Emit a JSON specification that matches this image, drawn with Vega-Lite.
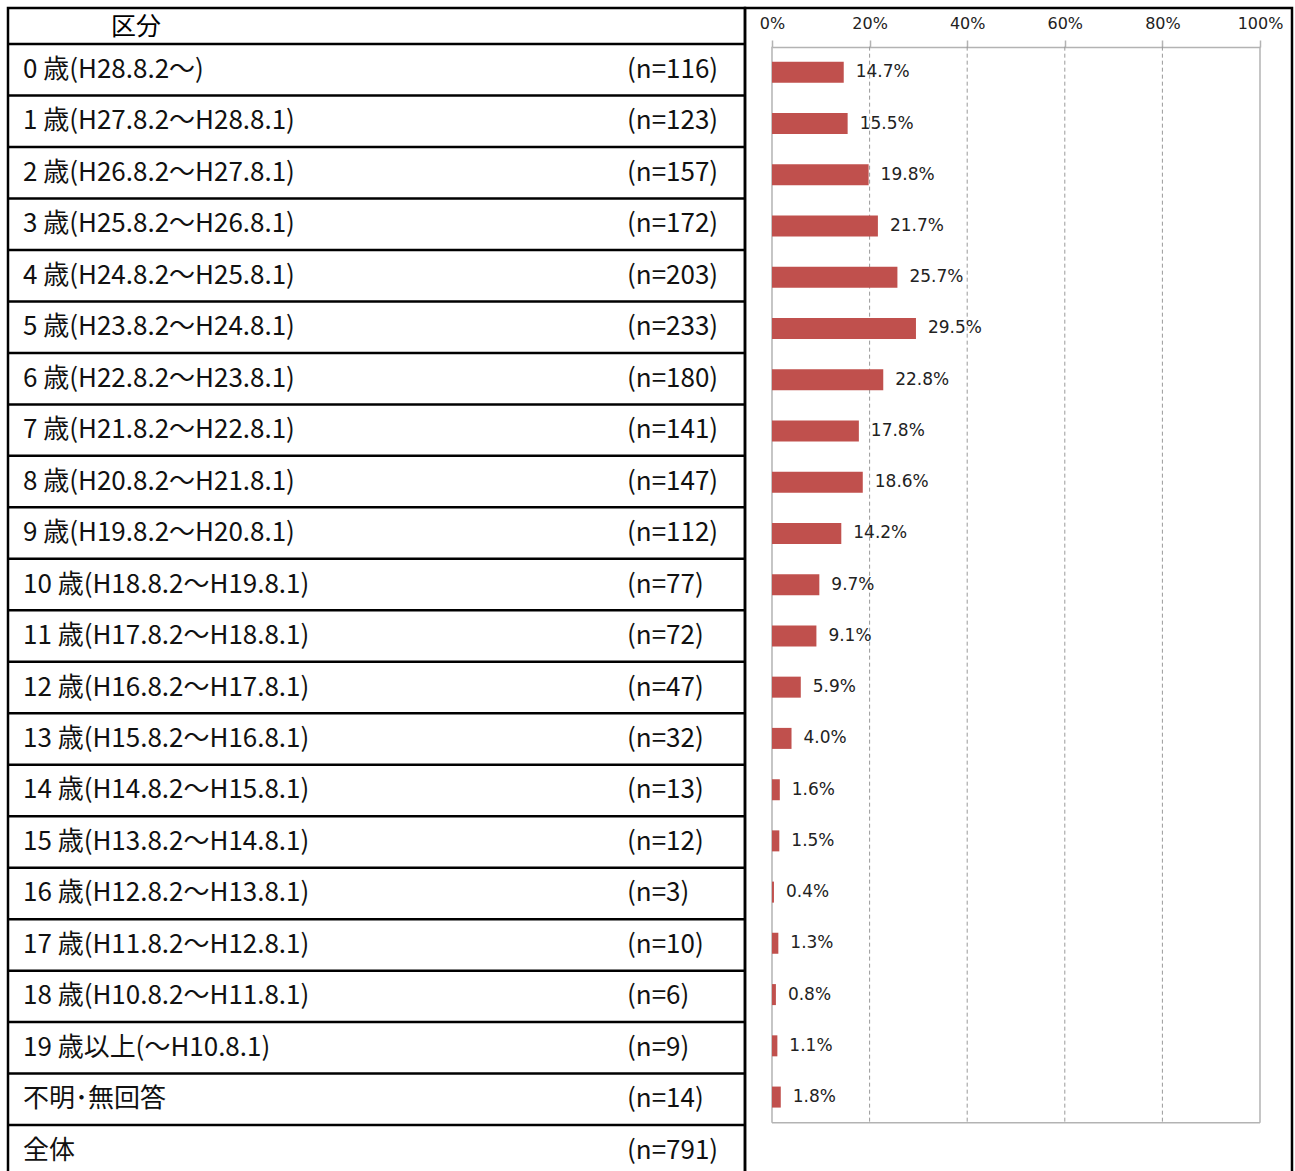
{
  "$schema": "https://vega.github.io/schema/vega-lite/v6.json",
  "background": "white",
  "padding": {"left": 5, "top": 6, "right": 0, "bottom": 0},
  "config": {"view": {"stroke": "black", "strokeWidth": 2.5}},
  "datasets": {
    "rows": [
      {"cat": "0 歳(H28.8.2～)", "n": "(n=116)", "pct": 0.147},
      {"cat": "1 歳(H27.8.2～H28.8.1)", "n": "(n=123)", "pct": 0.155},
      {"cat": "2 歳(H26.8.2～H27.8.1)", "n": "(n=157)", "pct": 0.198},
      {"cat": "3 歳(H25.8.2～H26.8.1)", "n": "(n=172)", "pct": 0.217},
      {"cat": "4 歳(H24.8.2～H25.8.1)", "n": "(n=203)", "pct": 0.257},
      {"cat": "5 歳(H23.8.2～H24.8.1)", "n": "(n=233)", "pct": 0.295},
      {"cat": "6 歳(H22.8.2～H23.8.1)", "n": "(n=180)", "pct": 0.228},
      {"cat": "7 歳(H21.8.2～H22.8.1)", "n": "(n=141)", "pct": 0.178},
      {"cat": "8 歳(H20.8.2～H21.8.1)", "n": "(n=147)", "pct": 0.186},
      {"cat": "9 歳(H19.8.2～H20.8.1)", "n": "(n=112)", "pct": 0.142},
      {"cat": "10 歳(H18.8.2～H19.8.1)", "n": "(n=77)", "pct": 0.097},
      {"cat": "11 歳(H17.8.2～H18.8.1)", "n": "(n=72)", "pct": 0.091},
      {"cat": "12 歳(H16.8.2～H17.8.1)", "n": "(n=47)", "pct": 0.059},
      {"cat": "13 歳(H15.8.2～H16.8.1)", "n": "(n=32)", "pct": 0.040},
      {"cat": "14 歳(H14.8.2～H15.8.1)", "n": "(n=13)", "pct": 0.016},
      {"cat": "15 歳(H13.8.2～H14.8.1)", "n": "(n=12)", "pct": 0.015},
      {"cat": "16 歳(H12.8.2～H13.8.1)", "n": "(n=3)", "pct": 0.004},
      {"cat": "17 歳(H11.8.2～H12.8.1)", "n": "(n=10)", "pct": 0.013},
      {"cat": "18 歳(H10.8.2～H11.8.1)", "n": "(n=6)", "pct": 0.008},
      {"cat": "19 歳以上(～H10.8.1)", "n": "(n=9)", "pct": 0.011},
      {"cat": "不明･無回答", "n": "(n=14)", "pct": 0.018},
      {"cat": "全体", "n": "(n=791)", "pct": null}
    ],
    "grid": [{"g": 0.2}, {"g": 0.4}, {"g": 0.6}, {"g": 0.8}],
    "edges": [{"g": 0}, {"g": 1}],
    "header": [{"h": "区分"}]
  },
  "spacing": 0,
  "bounds": "flush",
  "hconcat": [
    {
      "width": 737,
      "height": 1204.6,
      "layer": [
        {
          "data": {"name": "rows"},
          "mark": {"type": "rule", "stroke": "black", "strokeWidth": 2.5},
          "encoding": {
            "y": {"field": "cat", "type": "nominal", "bandPosition": 0, "axis": null,
                  "scale": {"type": "band", "paddingInner": 0, "paddingOuter": 0.7, "domain": ["0 歳(H28.8.2～)", "1 歳(H27.8.2～H28.8.1)", "2 歳(H26.8.2～H27.8.1)", "3 歳(H25.8.2～H26.8.1)", "4 歳(H24.8.2～H25.8.1)", "5 歳(H23.8.2～H24.8.1)", "6 歳(H22.8.2～H23.8.1)", "7 歳(H21.8.2～H22.8.1)", "8 歳(H20.8.2～H21.8.1)", "9 歳(H19.8.2～H20.8.1)", "10 歳(H18.8.2～H19.8.1)", "11 歳(H17.8.2～H18.8.1)", "12 歳(H16.8.2～H17.8.1)", "13 歳(H15.8.2～H16.8.1)", "14 歳(H14.8.2～H15.8.1)", "15 歳(H13.8.2～H14.8.1)", "16 歳(H12.8.2～H13.8.1)", "17 歳(H11.8.2～H12.8.1)", "18 歳(H10.8.2～H11.8.1)", "19 歳以上(～H10.8.1)", "不明･無回答", "全体"]}}
          }
        },
        {
          "data": {"name": "header"},
          "mark": {"type": "text", "align": "center", "baseline": "middle", "dx": 113, "font": "Noto Sans CJK JP", "fontSize": 25, "color": "#000"},
          "encoding": {
            "y": {"datum": "0 歳(H28.8.2～)", "type": "nominal", "bandPosition": -0.34},
            "x": {"datum": "cat", "type": "nominal", "axis": null, "scale": {"type": "point", "padding": 0, "domain": ["cat", "n"], "range": [15, 619]}},
            "text": {"field": "h"}
          }
        },
        {
          "data": {"name": "rows"},
          "mark": {"type": "text", "align": "left", "baseline": "middle", "font": "Noto Sans CJK JP", "fontSize": 26, "color": "#111"},
          "encoding": {
            "y": {"field": "cat", "type": "nominal"},
            "x": {"datum": "cat", "type": "nominal"},
            "text": {"field": "cat"}
          }
        },
        {
          "data": {"name": "rows"},
          "mark": {"type": "text", "align": "left", "baseline": "middle", "font": "Noto Sans CJK JP", "fontSize": 26, "color": "#111"},
          "encoding": {
            "y": {"field": "cat", "type": "nominal"},
            "x": {"datum": "n", "type": "nominal"},
            "text": {"field": "n"}
          }
        }
      ]
    },
    {
      "width": 547,
      "height": 1204.6,
      "layer": [
        {
          "data": {"name": "grid"},
          "mark": {"type": "rule", "stroke": "#9a9a9a", "strokeWidth": 1, "strokeDash": [4, 3]},
          "encoding": {
            "x": {"field": "g", "type": "quantitative", "scale": {"domain": [0, 1], "range": [27, 515], "nice": false, "zero": false},
                  "axis": {"orient": "top", "offset": -39, "values": [0, 0.2, 0.4, 0.6, 0.8, 1], "format": "%", "grid": false, "title": null,
                           "domainColor": "#b3b3b3", "domainWidth": 1.5, "tickColor": "#b3b3b3", "tickWidth": 1.5, "tickSize": 7,
                           "labelFont": "DejaVu Sans", "labelFontSize": 16, "labelColor": "#222", "labelPadding": 8, "labelFlush": false}},
            "y": {"datum": "0 歳(H28.8.2～)", "type": "nominal", "bandPosition": 0, "axis": null,
                  "scale": {"type": "band", "paddingInner": 0, "paddingOuter": 0.7545, "domain": ["0 歳(H28.8.2～)", "1 歳(H27.8.2～H28.8.1)", "2 歳(H26.8.2～H27.8.1)", "3 歳(H25.8.2～H26.8.1)", "4 歳(H24.8.2～H25.8.1)", "5 歳(H23.8.2～H24.8.1)", "6 歳(H22.8.2～H23.8.1)", "7 歳(H21.8.2～H22.8.1)", "8 歳(H20.8.2～H21.8.1)", "9 歳(H19.8.2～H20.8.1)", "10 歳(H18.8.2～H19.8.1)", "11 歳(H17.8.2～H18.8.1)", "12 歳(H16.8.2～H17.8.1)", "13 歳(H15.8.2～H16.8.1)", "14 歳(H14.8.2～H15.8.1)", "15 歳(H13.8.2～H14.8.1)", "16 歳(H12.8.2～H13.8.1)", "17 歳(H11.8.2～H12.8.1)", "18 歳(H10.8.2～H11.8.1)", "19 歳以上(～H10.8.1)", "不明･無回答", "全体"]}},
            "y2": {"datum": "全体", "bandPosition": 0}
          }
        },
        {
          "data": {"name": "edges"},
          "mark": {"type": "rule", "stroke": "#b3b3b3", "strokeWidth": 1.5},
          "encoding": {
            "x": {"field": "g", "type": "quantitative"},
            "y": {"datum": "0 歳(H28.8.2～)", "type": "nominal", "bandPosition": 0},
            "y2": {"datum": "全体", "bandPosition": 0}
          }
        },
        {
          "data": {"name": "header"},
          "mark": {"type": "rule", "stroke": "#b3b3b3", "strokeWidth": 1.5},
          "encoding": {
            "x": {"datum": 0, "type": "quantitative"},
            "x2": {"datum": 1},
            "y": {"datum": "全体", "type": "nominal", "bandPosition": 0}
          }
        },
        {
          "data": {"name": "rows"},
          "transform": [{"filter": "isValid(datum.pct)"}],
          "mark": {"type": "bar", "color": "#C0504D", "height": {"band": 0.41}},
          "encoding": {
            "x": {"field": "pct", "type": "quantitative"},
            "y": {"field": "cat", "type": "nominal"}
          }
        },
        {
          "data": {"name": "rows"},
          "transform": [{"filter": "isValid(datum.pct)"}],
          "mark": {"type": "text", "align": "left", "baseline": "middle", "dx": 12, "font": "DejaVu Sans", "fontSize": 17, "color": "#222"},
          "encoding": {
            "x": {"field": "pct", "type": "quantitative"},
            "y": {"field": "cat", "type": "nominal"},
            "text": {"field": "pct", "type": "quantitative", "format": ".1%"}
          }
        }
      ]
    }
  ]
}
